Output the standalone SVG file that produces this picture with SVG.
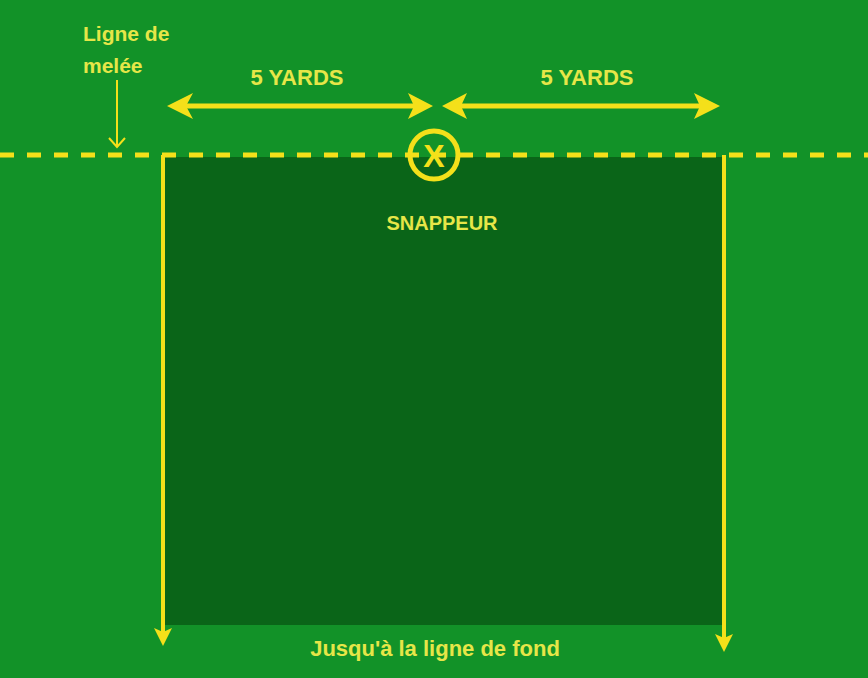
<svg xmlns="http://www.w3.org/2000/svg" width="868" height="678" viewBox="0 0 868 678">
<style>
.ln{stroke:#f4e01a;fill:none}
.hd{fill:#f4e01a}
.t{font-family:"Liberation Sans",Arial,sans-serif;font-weight:bold;fill:#e6e648}
</style>
<rect x="0" y="0" width="868" height="678" fill="#129228"/>
<g id="zone">
<rect x="165" y="157" width="557" height="468" fill="#0a6518"/>
</g>
<g id="connectors">
<line class="ln" x1="0" y1="155" x2="868" y2="155" stroke-width="5" stroke-dasharray="14 13"/>
<line class="ln" x1="180" y1="106" x2="420" y2="106" stroke-width="5"/>
<polygon class="hd" points="167,106 193,93 186,106 193,119"/>
<polygon class="hd" points="433,106 408,93 414,106 408,119"/>
<line class="ln" x1="455" y1="106" x2="706" y2="106" stroke-width="5"/>
<polygon class="hd" points="442,106 467,93 461,106 467,119"/>
<polygon class="hd" points="720,106 694,93 700,106 694,119"/>
<polyline class="ln" points="163,155 163,633" stroke-width="4"/>
<polygon class="hd" points="163,646 154,628 163,632 172,628"/>
<polyline class="ln" points="724,155 724,638" stroke-width="4"/>
<polygon class="hd" points="724,652 715,634 724,638 733,634"/>
<line class="ln" x1="117" y1="80" x2="117" y2="147" stroke-width="2"/>
<polyline class="ln" points="109,138 117,147 125,138" stroke-width="2"/>
</g>
<g id="snappeur">
<circle cx="434" cy="155" r="24" fill="none" stroke="#f4e01a" stroke-width="5"/>
<text class="t" x="434" y="167" font-size="32" text-anchor="middle" style="fill:#f4e01a">X</text>
<text class="t" x="442" y="230" font-size="20" text-anchor="middle">SNAPPEUR</text>
</g>
<g id="labels">
<text class="t" x="297" y="85" font-size="22" text-anchor="middle">5 YARDS</text>
<text class="t" x="587" y="85" font-size="22" text-anchor="middle">5 YARDS</text>
<text class="t" x="83" y="41" font-size="21">Ligne de</text>
<text class="t" x="83" y="73" font-size="21">melée</text>
<text class="t" x="435" y="656" font-size="22" text-anchor="middle">Jusqu'à la ligne de fond</text>
</g>
</svg>
